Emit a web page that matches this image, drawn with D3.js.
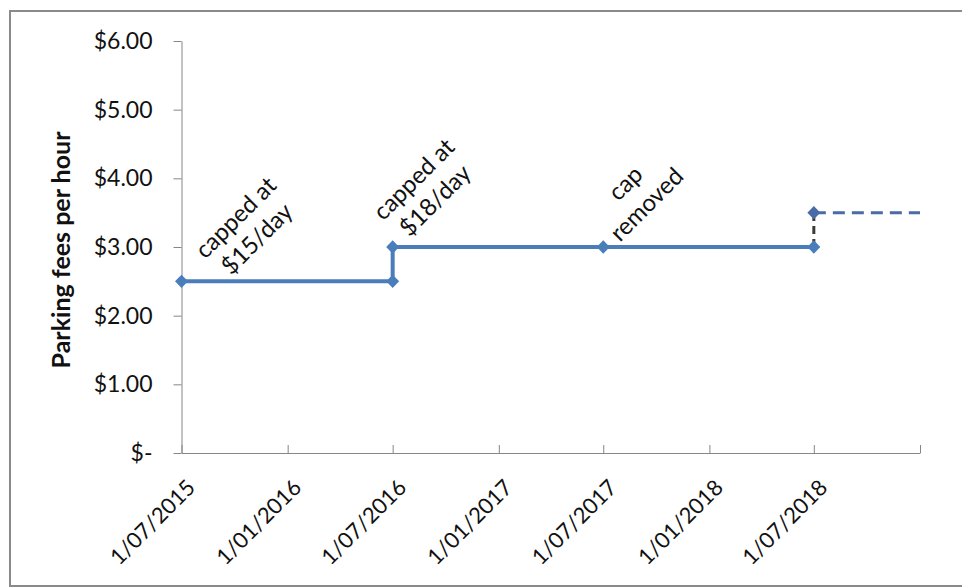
<!DOCTYPE html>
<html>
<head>
<meta charset="utf-8">
<script src="https://cdn.jsdelivr.net/npm/d3@7"></script>
<style>
  html, body { margin: 0; padding: 0; background: #fff; }
  svg { display: block; }
  text { font-family: Lato, "Open Sans", sans-serif; fill: #111; }
</style>
</head>
<body>
<svg id="chart" width="962" height="588"></svg>
<script>
// Parking fee history (stepped) and the announced rise
const feeDates = ["2015-07-01", "2016-07-01", "2016-07-01", "2017-07-01", "2018-07-01"];
const feeValues = [2.5, 2.5, 3.0, 3.0, 3.0];
const markerDates = ["2015-07-01", "2016-07-01", "2016-07-01", "2017-07-01", "2018-07-01"];
const markerValues = [2.5, 2.5, 3.0, 3.0, 3.0];
const riseDates = ["2018-07-01", "2018-07-01"];
const riseValues = [3.0, 3.5];
const plannedDates = ["2018-07-01", "2019-01-01"];
const plannedValues = [3.5, 3.5];
const yTicks = [0, 1, 2, 3, 4, 5, 6];
const xTickDates = ["2015-07-01", "2016-01-01", "2016-07-01", "2017-01-01", "2017-07-01", "2018-01-01", "2018-07-01", "2019-01-01"];
const noteDates = ["2015-07-01", "2016-07-01", "2017-07-01"];
const noteValues = [2.5, 3.0, 3.0];
const noteLines = [["capped at", "$15/day"], ["capped at", "$18/day"], ["cap", "removed"]];
const yTitle = "Parking fees per hour";

// where each note sits relative to the point it describes (px)
const noteOffsets = [[65, -53], [32, -57], [33, -53]];

const parse = d3.timeParse("%Y-%m-%d");
const svg = d3.select("#chart");

// outer frame
svg.append("rect")
  .attr("x", 10).attr("y", 11).attr("width", 962).attr("height", 575)
  .attr("fill", "#fff").attr("stroke", "#8a8a8a").attr("stroke-width", 2);

const plotLeft = 181.5, plotRight = 920, plotTop = 41, plotBottom = 453;

const x = d3.scaleTime()
  .domain([parse("2015-07-01"), parse("2019-01-01")])
  .range([plotLeft, plotRight]);
const y = d3.scaleLinear().domain([0, 6]).range([plotBottom, plotTop]);

const money = v => v === 0 ? "$-" : "$" + d3.format(".2f")(v);
const dateFmt = d3.timeFormat("%-d/%m/%Y");

// y axis
const yAxis = svg.append("g")
  .attr("transform", `translate(${plotLeft},0)`)
  .call(d3.axisLeft(y).tickValues(yTicks).tickFormat(money).tickSize(8).tickSizeOuter(0).tickPadding(21));
yAxis.select(".domain").attr("stroke", "#868686");
yAxis.selectAll(".tick line").attr("stroke", "#868686");
yAxis.selectAll(".tick text")
  .attr("font-size", 23).attr("fill", "#111")
  .attr("font-family", "Lato, sans-serif");

// x axis (ticks point up into the plot)
const xTicks = xTickDates.map(parse);
const xAxis = svg.append("g")
  .attr("transform", `translate(0,${plotBottom})`)
  .call(d3.axisBottom(x).tickValues(xTicks).tickSize(-8).tickSizeOuter(0).tickFormat(""));
xAxis.select(".domain").attr("stroke", "#868686");
xAxis.selectAll(".tick line").attr("stroke", "#868686");

// rotated date labels, except the closing tick
svg.append("g").selectAll("text")
  .data(xTicks.slice(0, -1))
  .join("text")
  .attr("transform", d => `translate(${x(d) + 15},${plotBottom + 36}) rotate(-45)`)
  .attr("text-anchor", "end")
  .attr("font-size", 22)
  .text(d => dateFmt(d));

// y axis title
svg.append("text")
  .attr("transform", `translate(70,250) rotate(-90)`)
  .attr("text-anchor", "middle")
  .attr("font-size", 25)
  .attr("font-weight", "bold")
  .text(yTitle);

const line = d3.line().x(d => x(d[0])).y(d => y(d[1]));
const pairs = (ds, vs) => ds.map((d, i) => [parse(d), vs[i]]);

// planned fee (dashed)
svg.append("path")
  .attr("d", line(pairs(plannedDates, plannedValues)))
  .attr("fill", "none").attr("stroke", "#4b6aa8").attr("stroke-width", 3)
  .attr("stroke-dasharray", "12,7");

svg.append("path")
  .attr("d", line(pairs(riseDates, riseValues)))
  .attr("fill", "none").attr("stroke", "#3b3b35").attr("stroke-width", 3)
  .attr("stroke-dasharray", "8,5");

// actual fee history
svg.append("path")
  .attr("d", line(pairs(feeDates, feeValues)))
  .attr("fill", "none").attr("stroke", "#4a7ebb").attr("stroke-width", 4);

const diamond = d3.symbol().type(d3.symbolDiamond).size(80);
svg.append("g").selectAll("path")
  .data(pairs(markerDates, markerValues).concat([[parse(plannedDates[0]), plannedValues[0]]]))
  .join("path")
  .attr("transform", d => `translate(${x(d[0])},${y(d[1])}) scale(1.35,0.8)`)
  .attr("d", diamond)
  .attr("fill", (d, i, n) => i === n.length - 1 ? "#4b6aa8" : "#4a7ebb");

// notes beside each change
const lineGap = 30;
const notes = svg.append("g").selectAll("text")
  .data(noteDates.map((d, i) => ({ date: parse(d), value: noteValues[i], lines: noteLines[i], off: noteOffsets[i] })))
  .join("text")
  .attr("transform", d => `translate(${x(d.date) + d.off[0]},${y(d.value) + d.off[1]}) rotate(-45)`)
  .attr("text-anchor", "middle")
  .attr("font-size", 24);
notes.selectAll("tspan")
  .data(d => d.lines)
  .join("tspan")
  .attr("x", 0)
  .attr("y", (d, i, n) => (i - (n.length - 1) / 2) * lineGap + 8)
  .text(d => d);
</script>
</body>
</html>
